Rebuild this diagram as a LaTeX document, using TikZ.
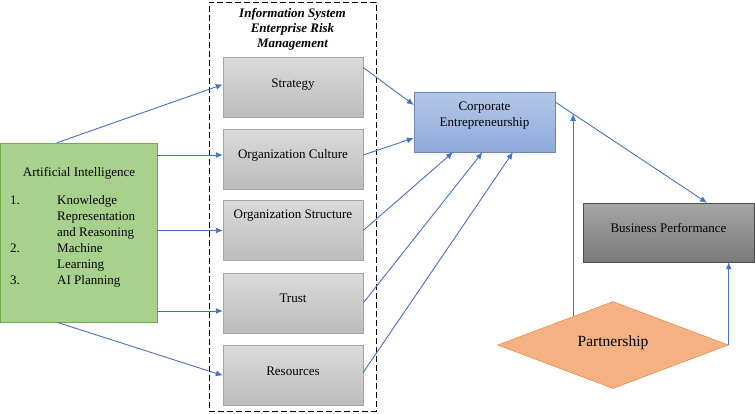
\documentclass[tikz,border=0pt]{standalone}
\usepackage{fontspec}
\setmainfont{Liberation Serif}
\usetikzlibrary{arrows.meta,shapes.geometric,calc}
\definecolor{linkblue}{HTML}{4472C4}
\definecolor{graytop}{HTML}{DADADA}
\definecolor{graybot}{HTML}{BDBDBD}
\definecolor{graybd}{HTML}{A5A5A5}
\definecolor{greenfill}{HTML}{A9D18E}
\definecolor{greenbd}{HTML}{70AD47}
\definecolor{bluetop}{HTML}{B4C7E7}
\definecolor{bluebot}{HTML}{8FAADC}
\definecolor{bluebd}{HTML}{6F86B8}
\definecolor{darktop}{HTML}{A6A6A6}
\definecolor{darkbot}{HTML}{7A7A7A}
\definecolor{orangefill}{HTML}{F4B183}
\definecolor{orangebd}{HTML}{ED7D31}
\begin{document}
\begin{tikzpicture}[x=1pt,y=-1pt,
    every node/.style={font=\fontsize{13}{16}\selectfont},
    gbox/.style={draw=graybd,top color=graytop,bottom color=graybot,
      minimum width=140pt,minimum height=60pt,inner sep=0pt,
      text height=9pt,text depth=10pt},
    arr/.style={draw=linkblue,line width=0.9pt,-{Latex[length=7pt,width=6pt]}}]
  \useasboundingbox (0,0) rectangle (755,413);
  \draw
    (292.5,206.5) node[draw,line width=1pt,dash pattern=on 6pt off 3pt,
      minimum width=167pt,minimum height=409pt] (isrm){}
    (292.5,29) node[font=\fontsize{13}{15}\selectfont\bfseries\itshape,
      align=center] (isrmtitle){Information System\\Enterprise Risk\\Management}
    (293,87.5) node[gbox] (strat){Strategy}
    (293,159) node[gbox] (cult){Organization Culture}
    (293,230.5) node[gbox,text depth=33pt] (struc){Organization Structure}
    (293,303) node[gbox] (trust){Trust}
    (293,375.5) node[gbox] (res){Resources}
    (78.5,232.5) node[draw=greenbd,fill=greenfill,minimum width=157pt,
      minimum height=179pt] (ai){}
    (79,173) node (aititle){Artificial Intelligence}
    (10,204.5) node[anchor=base west,inner sep=0pt] (ailist){%
      \begin{tabular}[t]{@{}p{47pt}@{}l@{}}
        1. & Knowledge\\
           & Representation\\
           & and Reasoning\\
        2. & Machine\\
           & Learning\\
        3. & AI Planning
      \end{tabular}}
    (484.5,122) node[draw=bluebd,top color=bluetop,bottom color=bluebot,
      minimum width=141pt,minimum height=60pt] (ce){}
    (484.5,116) node[align=center] (cetext){Corporate\\Entrepreneurship}
    (668.5,232.5) node[draw=black!70,top color=darktop,bottom color=darkbot,
      minimum width=171pt,minimum height=59pt,inner sep=0pt,
      text height=9pt,text depth=10pt] (bp){Business Performance}
    (613,345) node[diamond,draw=orangebd,fill=orangefill,aspect=2.65,
      minimum width=231pt,minimum height=87pt,inner sep=0pt,
      font=\fontsize{15.5}{18}\selectfont,text height=11pt,text depth=9pt] (pship){Partnership};
  \begin{scope}[arr]
    \draw ([xshift=57pt]ai.north west) to ([yshift=3pt]strat.west);
    \draw ([yshift=4pt]ai.east |- cult.west) to ([yshift=4pt]cult.west);
    \draw (ai.east |- struc.west) to (struc.west);
    \draw ([yshift=-8pt]ai.east |- trust.west) to ([yshift=-8pt]trust.west);
    \draw ([xshift=57pt]ai.south west) to (res.west);
    \draw ([yshift=20pt]strat.east) to ([yshift=17pt]ce.west);
    \draw ([yshift=4pt]cult.east) to ([yshift=-16pt]ce.west);
    \draw (struc.east) to ([xshift=-31.5pt]ce.south);
    \draw (trust.east) to ([xshift=-2pt]ce.south);
    \draw ([yshift=3pt]res.east) to ([xshift=28.5pt]ce.south);
    \draw ([yshift=20pt]ce.east) to coordinate[pos=0.118] (mod) ([xshift=38.5pt]bp.north);
    \coordinate (pleft) at ($(pship.west)!0.655!(pship.north)$);
    \draw (pleft) to (pleft |- mod);
    \draw (pship.east) to (pship.east |- bp.south);
  \end{scope}
\end{tikzpicture}
\end{document}
